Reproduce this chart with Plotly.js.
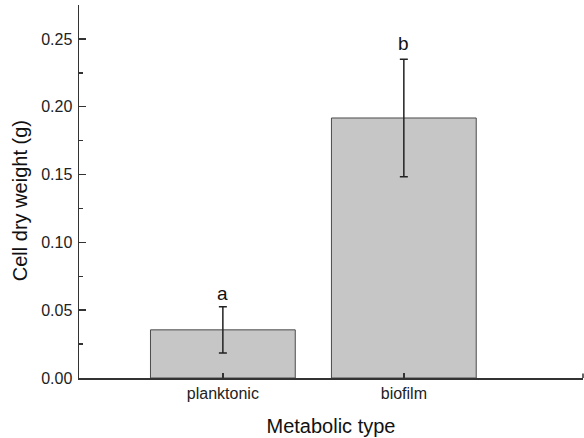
<!DOCTYPE html>
<html>
<head>
<meta charset="utf-8">
<script src="https://cdn.plot.ly/plotly-3.0.1.min.js"></script>
<style>html,body{margin:0;padding:0;background:#fff;}#chart{width:584px;height:438px;}</style>
</head>
<body>
<div id="chart"></div>
<script>
const categories = ["planktonic", "biofilm"];
const values = [0.0355, 0.1917];
const errors = [0.0170, 0.0433];
const letters = ["a", "b"];
const letterY = [0.0625, 0.2465];
const xTitle = "Metabolic type";
const yTitle = "Cell dry weight (g)";

const trace = {
  type: "bar",
  x: categories,
  y: values,
  width: 0.8,
  marker: {color: "#c6c6c6", line: {color: "#4a4a4a", width: 1}},
  error_y: {type: "data", array: errors, visible: true, color: "#222", thickness: 1.5, width: 4},
  hoverinfo: "none"
};

const annotations = categories.map((c, i) => ({
  x: c, y: letterY[i], xref: "x", yref: "y", text: letters[i], showarrow: false,
  font: {family: "Arial, Liberation Sans, sans-serif", size: 19, color: "#111"}
}));
annotations.push({
  text: yTitle, xref: "paper", yref: "paper", x: -0.117, y: 0.474,
  xanchor: "center", yanchor: "middle", textangle: -90, showarrow: false,
  font: {family: "Arial, Liberation Sans, sans-serif", size: 20, color: "#111"}
});

const layout = {
  width: 584, height: 438,
  margin: {l: 79, r: 1, t: 5, b: 60},
  paper_bgcolor: "#fff", plot_bgcolor: "#fff",
  showlegend: false,
  font: {family: "Arial, Liberation Sans, sans-serif", color: "#222"},
  xaxis: {
    type: "category", range: [-0.795, 1.99],
    showline: true, linecolor: "#333", linewidth: 1.5,
    ticks: "inside", ticklen: 5, tickwidth: 1.5, tickcolor: "#333",
    showgrid: false, zeroline: false,
    tickfont: {size: 16, color: "#222"},
    title: {text: xTitle, font: {size: 20, color: "#111"}, standoff: 18}
  },
  yaxis: {
    range: [0, 0.275],
    showline: true, linecolor: "#333", linewidth: 1.5,
    ticks: "inside", ticklen: 7, tickwidth: 1.5, tickcolor: "#333",
    dtick: 0.05, tick0: 0, tickformat: ".2f",
    minor: {ticks: "inside", ticklen: 4, dtick: 0.025, tickwidth: 1.5, tickcolor: "#333", showgrid: false},
    showgrid: false, zeroline: false,
    tickfont: {size: 16, color: "#222"},
    ticklabelstandoff: 2
  },
  annotations: annotations,
  shapes: [{type: "line", xref: "paper", yref: "paper", x0: 1, x1: 1, y0: 0, y1: 0.012, line: {color: "#333", width: 1.5}}]
};

Plotly.newPlot("chart", [trace], layout, {staticPlot: true, displayModeBar: false});
</script>
</body>
</html>
